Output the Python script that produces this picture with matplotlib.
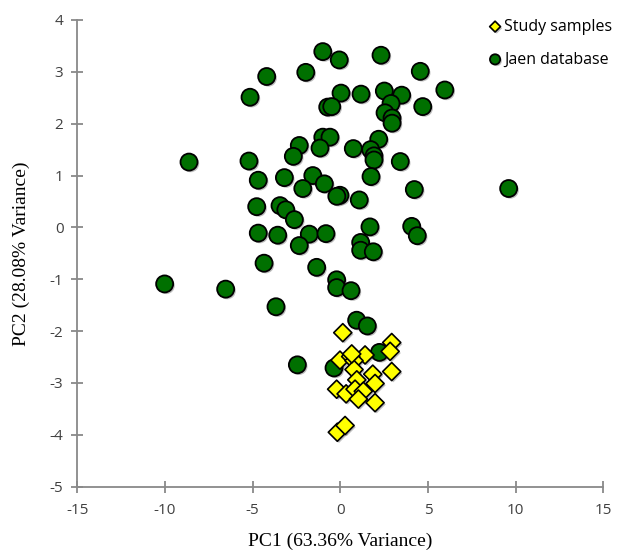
import matplotlib
matplotlib.use('Agg')
import matplotlib.pyplot as plt
import matplotlib.patheffects as pe

# PCA scores
jaen_pc1 = [-1.00, -0.06, 2.32, -4.20, -1.97, 4.56, -5.15, 0.04, 1.18, 2.51,
            3.50, 5.96, -0.72, -0.49, 2.89, 2.55, 4.70, 2.95, 2.95, -1.00,
            -0.59, 2.19, -2.34, -1.16, 0.74, 1.73, 1.92, 1.92, -2.68, -8.63,
            -5.21, 3.42, -4.68, -3.19, -1.57, 1.75, -2.14, -0.91, -0.02, 1.08,
            4.22, -0.20, -4.77, -3.44, -3.11, -2.62, 1.69, 4.07, 4.39, -4.68,
            -3.57, -1.77, -0.82, -2.34, 1.16, 1.16, 1.88, -4.35, -1.35, -10.02,
            -6.54, -0.21, -0.21, 0.61, -3.67, 0.93, 1.54, -2.45, -0.36, 2.23,
            9.60]
jaen_pc2 = [3.39, 3.23, 3.32, 2.91, 2.99, 3.01, 2.51, 2.59, 2.57, 2.63,
            2.55, 2.65, 2.32, 2.33, 2.39, 2.21, 2.33, 2.11, 2.01, 1.74,
            1.74, 1.70, 1.58, 1.53, 1.52, 1.50, 1.38, 1.30, 1.37, 1.26,
            1.28, 1.27, 0.91, 0.96, 1.00, 0.98, 0.75, 0.84, 0.62, 0.53,
            0.73, 0.60, 0.40, 0.42, 0.34, 0.15, 0.01, 0.02, -0.16, -0.11,
            -0.15, -0.13, -0.12, -0.35, -0.29, -0.44, -0.47, -0.69, -0.77, -1.09,
            -1.19, -1.01, -1.16, -1.22, -1.53, -1.79, -1.90, -2.65, -2.71, -2.41,
            0.75]

study_pc1 = [0.14, 2.93, 2.84, 1.41, -0.02, 0.59, 0.78, 0.78, 1.85, 2.93,
             1.98, 0.94, -0.21, 0.33, 0.84, 1.31, 1.03, 1.98, -0.17, 0.27,
             0.65]
study_pc2 = [-2.03, -2.22, -2.39, -2.46, -2.56, -2.49, -2.57, -2.74, -2.83, -2.78,
             -3.01, -2.94, -3.12, -3.21, -3.12, -3.16, -3.31, -3.38, -3.95, -3.82,
             -2.44]

x_ticks = [-15, -10, -5, 0, 5, 10, 15]
y_ticks = [-5, -4, -3, -2, -1, 0, 1, 2, 3, 4]

AXIS_GREY = '#898989'
shadow = [pe.SimplePatchShadow(offset=(1.2, -1.2), shadow_rgbFace='#000000', alpha=0.25),
          pe.Normal()]

fig = plt.figure(figsize=(6.22, 5.52), dpi=100)
ax = fig.add_axes([0.1243, 0.1183, 0.8457, 0.8455])

jaen = ax.scatter(jaen_pc1, jaen_pc2, s=150, marker='o', facecolor='#007000',
                  edgecolor='black', linewidth=1.3, zorder=2, label='Jaen database')
jaen.set_path_effects(shadow)
study = ax.scatter(study_pc1, study_pc2, s=85, marker='D', facecolor='#FFFF00',
                   edgecolor='black', linewidth=1.2, zorder=3, label='Study samples')
study.set_path_effects(shadow)

ax.set_xlim(-15, 15)
ax.set_ylim(-5, 4)
ax.set_xticks(x_ticks)
ax.set_yticks(y_ticks)
ax.set_xticklabels([str(t) for t in x_ticks])
ax.set_yticklabels([str(t) for t in y_ticks])

for side in ['top', 'right']:
    ax.spines[side].set_visible(False)
for side in ['left', 'bottom']:
    ax.spines[side].set_color(AXIS_GREY)
    ax.spines[side].set_linewidth(1.3)
ax.tick_params(direction='inout', length=8, width=1.3, color=AXIS_GREY,
               labelsize=11, labelcolor='#404040')
ax.tick_params(axis='x', pad=8)
ax.tick_params(axis='y', pad=6)
for lab in ax.get_xticklabels() + ax.get_yticklabels():
    lab.set_family('Open Sans')

ax.set_xlabel('PC1 (63.36% Variance)', family='Liberation Serif', fontsize=14,
              labelpad=10)
ax.set_ylabel('PC2 (28.08% Variance)', family='Liberation Serif', fontsize=14,
              labelpad=14)

leg = fig.legend(handles=[study, jaen], loc='upper left',
                 bbox_to_anchor=(0.76, 0.992), frameon=False,
                 prop={'family': 'Open Sans', 'size': 11.5},
                 handletextpad=0.05, labelspacing=1.05, handlelength=1.0,
                 markerscale=0.6)

fig.savefig('out.png', dpi=100)
